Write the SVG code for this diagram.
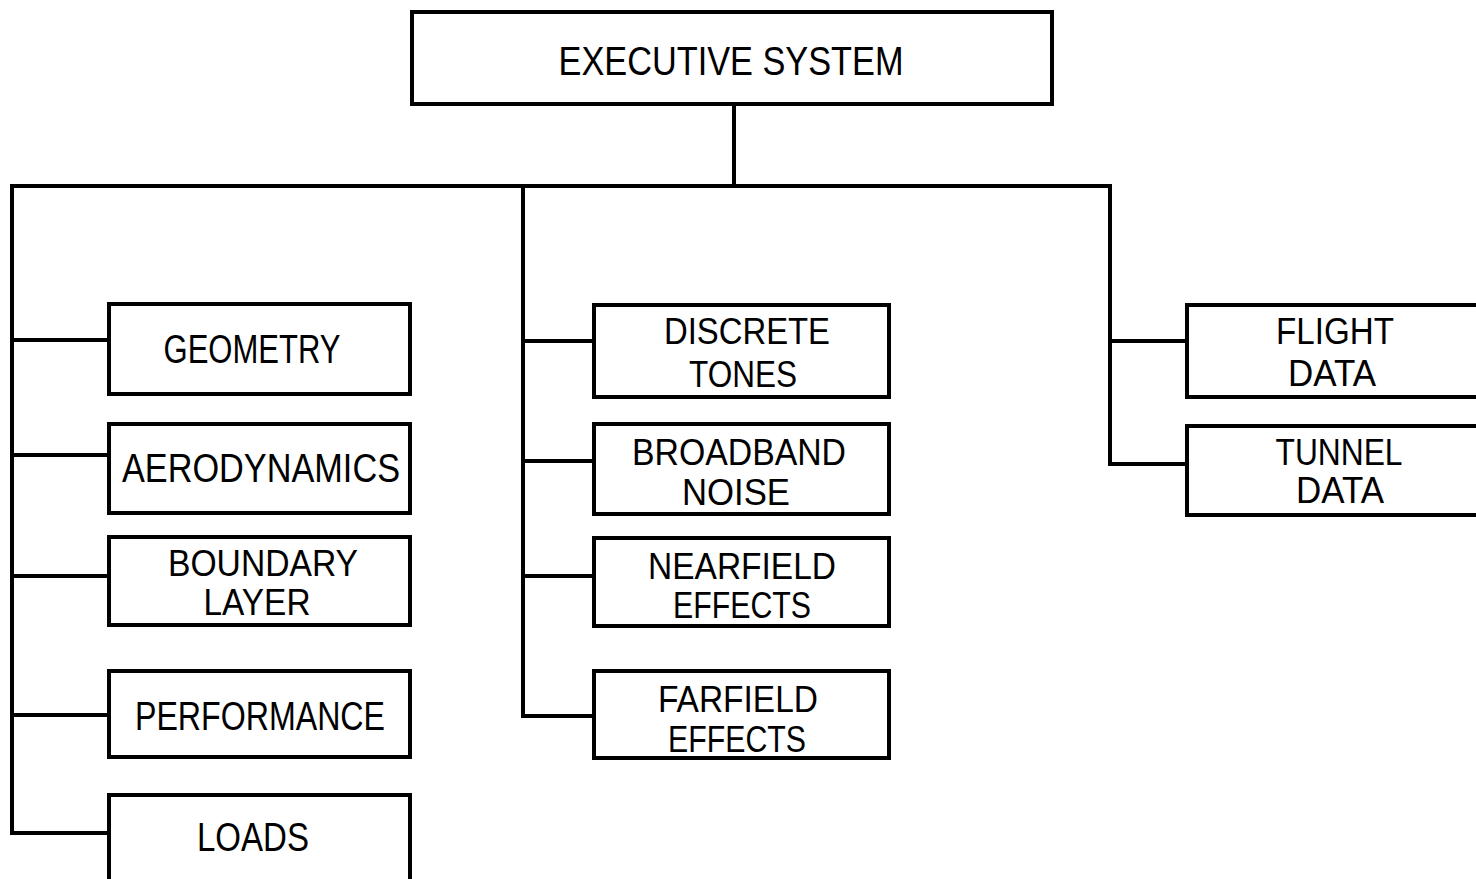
<svg xmlns="http://www.w3.org/2000/svg" width="1476" height="879" viewBox="0 0 1476 879">
<style>
.box{fill:#fff;stroke:#000;stroke-width:4}
.ln{fill:none;stroke:#000;stroke-width:4;stroke-linejoin:miter;stroke-linecap:square}
text{font-family:"Liberation Sans","DejaVu Sans",sans-serif;font-size:41px;fill:#000;text-anchor:middle}
text.two{font-size:37px}
</style>
<rect width="1476" height="879" fill="#fff"/>
<g id="connectors">
<path class="ln" d="M734,104 V186 M12,186 H1110 M12,186 V833 H109 M12,340 H109 M12,455 H109 M12,576 H109 M12,715 H109"/>
<path class="ln" d="M523,186 V716 H594 M523,341 H594 M523,461 H594 M523,576 H594"/>
<path class="ln" d="M1110,186 V464 H1187 M1110,341 H1187"/>
</g>
<g id="executive"><rect class="box" x="412" y="12" width="640" height="92"/><text x="731" y="75" textLength="345" lengthAdjust="spacingAndGlyphs">EXECUTIVE SYSTEM</text></g>
<g id="geometry"><rect class="box" x="109" y="304" width="301" height="90"/><text x="252" y="363" textLength="177" lengthAdjust="spacingAndGlyphs">GEOMETRY</text></g>
<g id="aerodynamics"><rect class="box" x="109" y="424" width="301" height="89"/><text x="261" y="482" textLength="278" lengthAdjust="spacingAndGlyphs">AERODYNAMICS</text></g>
<g id="boundary"><rect class="box" x="109" y="537" width="301" height="88"/><text class="two" x="263" y="576" textLength="190" lengthAdjust="spacingAndGlyphs">BOUNDARY</text><text class="two" x="257" y="615" textLength="107" lengthAdjust="spacingAndGlyphs">LAYER</text></g>
<g id="performance"><rect class="box" x="109" y="671" width="301" height="86"/><text x="260" y="730" textLength="250" lengthAdjust="spacingAndGlyphs">PERFORMANCE</text></g>
<g id="loads"><rect class="box" x="109" y="795" width="301" height="90"/><text x="253" y="851" textLength="112" lengthAdjust="spacingAndGlyphs">LOADS</text></g>
<g id="discrete"><rect class="box" x="594" y="305" width="295" height="92"/><text class="two" x="747" y="344" textLength="166" lengthAdjust="spacingAndGlyphs">DISCRETE</text><text class="two" x="743" y="387" textLength="108" lengthAdjust="spacingAndGlyphs">TONES</text></g>
<g id="broadband"><rect class="box" x="594" y="424" width="295" height="90"/><text class="two" x="739" y="465" textLength="214" lengthAdjust="spacingAndGlyphs">BROADBAND</text><text class="two" x="736" y="505" textLength="108" lengthAdjust="spacingAndGlyphs">NOISE</text></g>
<g id="nearfield"><rect class="box" x="594" y="538" width="295" height="88"/><text class="two" x="742" y="579" textLength="188" lengthAdjust="spacingAndGlyphs">NEARFIELD</text><text class="two" x="742" y="618" textLength="138" lengthAdjust="spacingAndGlyphs">EFFECTS</text></g>
<g id="farfield"><rect class="box" x="594" y="671" width="295" height="87"/><text class="two" x="738" y="712" textLength="160" lengthAdjust="spacingAndGlyphs">FARFIELD</text><text class="two" x="737" y="752" textLength="138" lengthAdjust="spacingAndGlyphs">EFFECTS</text></g>
<g id="flight"><rect class="box" x="1187" y="305" width="300" height="92"/><text class="two" x="1335" y="344" textLength="118" lengthAdjust="spacingAndGlyphs">FLIGHT</text><text class="two" x="1332" y="386" textLength="88" lengthAdjust="spacingAndGlyphs">DATA</text></g>
<g id="tunnel"><rect class="box" x="1187" y="426" width="300" height="89"/><text class="two" x="1339" y="465" textLength="127" lengthAdjust="spacingAndGlyphs">TUNNEL</text><text class="two" x="1340" y="503" textLength="88" lengthAdjust="spacingAndGlyphs">DATA</text></g>
</svg>
